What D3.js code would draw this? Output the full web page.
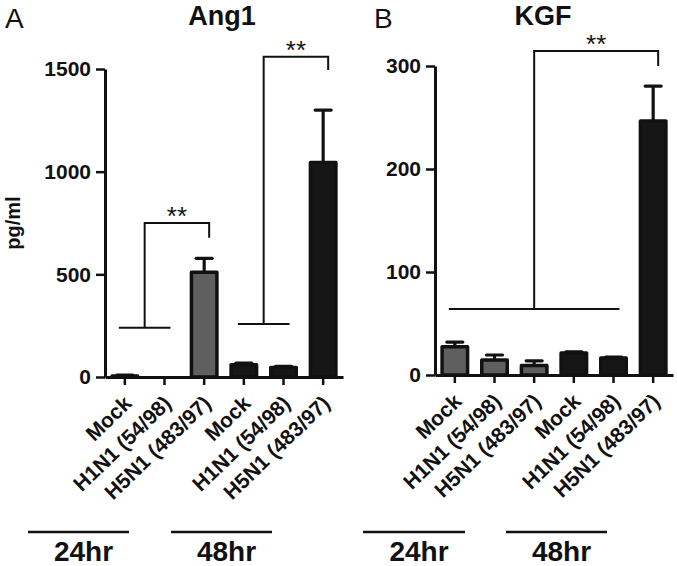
<!DOCTYPE html>
<html><head><meta charset="utf-8">
<script src="https://cdn.jsdelivr.net/npm/d3@7"></script>
<style>body{margin:0;background:#fff} svg{display:block} text{font-family:"Liberation Sans",Arial,Helvetica,sans-serif;fill:#111}</style>
</head><body><svg id="c" width="677" height="566"></svg>
<script>
const categories = ["Mock","H1N1 (54/98)","H5N1 (483/97)","Mock","H1N1 (54/98)","H5N1 (483/97)"];
const timeGroups = ["24hr","24hr","24hr","48hr","48hr","48hr"];
const timeLabels = ["24hr","48hr"];
const ang1Values = [5, 0, 510, 60, 46, 1045];
const ang1Errors = [4, 0, 68, 8, 6, 255];
const kgfValues = [27.5, 14.5, 9.2, 21.4, 16.5, 246.5];
const kgfErrors = [4.5, 4.9, 4.6, 1, 1, 34];
const ang1Ticks = [0, 500, 1000, 1500];
const kgfTicks = [0, 100, 200, 300];
const ang1Sig = [
  {group:[0,1], target:2, base:240, top:750, end:678, label:"**"},
  {group:[3,4], target:5, base:258, top:1560, end:1495, label:"**"}
];
const kgfSig = [
  {group:[0,4], target:5, base:64, top:314.5, end:300, label:"**"}
];

const svg = d3.select("#c");
svg.append("rect").attr("width",677).attr("height",566).attr("fill","#fff");

const panels = [
  {letter:"A", title:"Ang1", values:ang1Values, errors:ang1Errors, ticks:ang1Ticks, sig:ang1Sig,
   left:105, right:343, yBottom:377, yTop:69, letterX:5, titleX:222, ylabel:"pg/ml",
   lines:[[-77,24],[66,167]]},
  {letter:"B", title:"KGF", values:kgfValues, errors:kgfErrors, ticks:kgfTicks, sig:kgfSig,
   left:435, right:673, yBottom:375, yTop:66, letterX:374, titleX:543, ylabel:null,
   lines:[[-72,30],[71,172]]}
];

const grayFill = "#5f5f5f", blackFill = "#161616";

panels.forEach(p => {
  const g = svg.append("g");
  const x = d3.scaleBand().domain(d3.range(categories.length)).range([p.left, p.right]).padding(0);
  const y = d3.scaleLinear().domain([0, d3.max(p.ticks)]).range([p.yBottom, p.yTop]);
  const cx = i => x(i) + x.bandwidth()/2;
  const bw = 25.5;

  // error bars
  const eb = g.append("g").attr("stroke","#111").attr("stroke-width",3.2).attr("fill","none");
  p.values.forEach((v,i) => {
    const e = p.errors[i];
    if (e <= 0) return;
    eb.append("line").attr("x1",cx(i)).attr("x2",cx(i)).attr("y1",y(v)).attr("y2",y(v+e));
    eb.append("line").attr("x1",cx(i)-8).attr("x2",cx(i)+8).attr("y1",y(v+e)).attr("y2",y(v+e)).attr("stroke-linecap","round");
  });

  // bars
  g.append("g").selectAll("rect").data(p.values).join("rect")
    .attr("x",(d,i)=>cx(i)-bw/2).attr("width",bw)
    .attr("y",d=>y(d)).attr("height",d=>y(0)-y(d))
    .attr("fill",(d,i)=>timeGroups[i]==="24hr"?grayFill:blackFill)
    .attr("stroke","#111").attr("stroke-width",3.5).attr("stroke-linejoin","round")
    .attr("opacity",d=>d>0?1:0);

  // y axis
  const ya = g.append("g").attr("transform",`translate(${p.left},0)`)
    .call(d3.axisLeft(y).tickValues(p.ticks).tickFormat(d3.format("d")).tickSize(9).tickSizeOuter(0).tickPadding(5));
  ya.select(".domain").attr("stroke","#111").attr("stroke-width",3);
  ya.selectAll(".tick line").attr("stroke","#111").attr("stroke-width",2.5);
  ya.selectAll(".tick text").attr("font-size",21).attr("font-weight","bold").attr("fill","#111")
    .attr("font-family",'"Liberation Sans",Arial,sans-serif');

  // x axis
  const xa = g.append("g").attr("transform",`translate(0,${p.yBottom})`)
    .call(d3.axisBottom(x).tickSize(8).tickSizeOuter(0).tickFormat(i=>categories[i]));
  xa.select(".domain").attr("stroke","#111").attr("stroke-width",3);
  xa.selectAll(".tick line").attr("stroke","#111").attr("stroke-width",2.5);
  xa.selectAll(".tick text").attr("font-size",21).attr("font-weight","bold").attr("fill","#111")
    .attr("font-family",'"Liberation Sans",Arial,sans-serif')
    .attr("x",0).attr("y",0).attr("dy",null).attr("text-anchor","end")
    .attr("transform","translate(8,28) rotate(-44)");

  // significance brackets
  const sg = g.append("g").attr("stroke","#111").attr("stroke-width",2).attr("fill","none");
  p.sig.forEach(s => {
    const x1 = cx(s.group[0]) - 6, x2 = cx(s.group[1]) + 6;
    const mid = (x1 + x2)/2;
    const xt = cx(s.target) + 5;
    sg.append("line").attr("x1",x1).attr("x2",x2).attr("y1",y(s.base)).attr("y2",y(s.base));
    sg.append("path").attr("d",`M${mid},${y(s.base)}V${y(s.top)}H${xt}V${y(s.end)}`);
    g.append("text").attr("x",(mid+xt)/2).attr("y",y(s.top)+2).attr("text-anchor","middle")
      .attr("font-size",26).text(s.label);
  });

  // titles
  g.append("text").attr("x",p.letterX).attr("y",28).attr("font-size",28).text(p.letter);
  g.append("text").attr("x",p.titleX).attr("y",25).attr("text-anchor","middle")
    .attr("font-size",27).attr("font-weight","bold").text(p.title);
  if (p.ylabel) {
    g.append("text").attr("transform","translate(20,223) rotate(-90)").attr("text-anchor","middle")
      .attr("font-size",20).attr("font-weight","bold").text(p.ylabel);
  }

  // time group lines
  timeLabels.forEach((t,k) => {
    const [a,b] = p.lines[k];
    g.append("line").attr("x1",p.left+a).attr("x2",p.left+b).attr("y1",532).attr("y2",532)
      .attr("stroke","#111").attr("stroke-width",2.5);
    g.append("text").attr("x",p.left+(a+b)/2+5).attr("y",561).attr("text-anchor","middle")
      .attr("font-size",28).attr("font-weight","bold").text(t);
  });
});
</script></body></html>
